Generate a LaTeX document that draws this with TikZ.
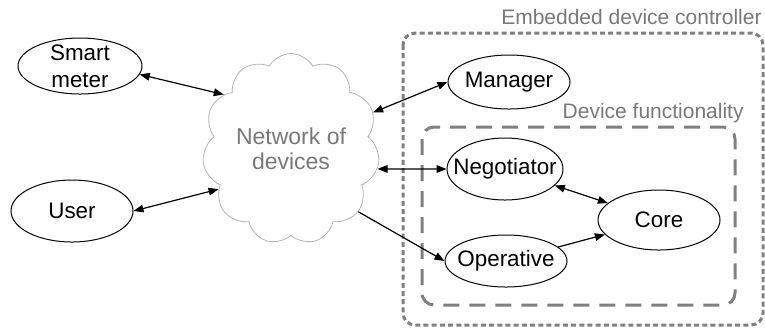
\documentclass[tikz,border=0pt]{standalone}
\usepackage{fontspec}
\setmainfont{Liberation Sans}
\usetikzlibrary{arrows.meta,shapes.geometric,shapes.symbols}
\definecolor{framegray}{RGB}{128,128,128}
\definecolor{textgray}{RGB}{120,120,120}
\tikzset{%
  >={Triangle[width=3.8pt,length=5pt]},
  % Specifications for style of nodes:
        base/.style = {ellipse, draw=black, line width=0.5pt,
                       inner xsep=-8pt, inner ysep=-6pt, align=center,
                       font=\fontsize{11.2}{13.5}\selectfont},
      netcld/.style = {cloud, draw=black!30, line width=0.4pt, cloud puffs=11,
                       cloud puff arc=120, aspect=0.9, inner sep=0pt,
                       minimum width=82pt, minimum height=94pt, align=center,
                       text=textgray, font=\fontsize{11.5}{12.5}\selectfont},
    boxlabel/.style = {anchor=east, inner sep=0pt, text=textgray,
                       font=\fontsize{10.5}{12}\selectfont},
    outerbox/.style = {draw=framegray, line width=1.5pt, rounded corners=6pt,
                       dash pattern=on 2.5pt off 1.6pt},
    innerbox/.style = {draw=framegray, line width=1.5pt, rounded corners=6pt,
                       dash pattern=on 8pt off 5pt},
        link/.style = {line width=0.6pt}
}
\begin{document}
\begin{tikzpicture}[x=0.5pt, y=-0.5pt]
  \useasboundingbox (0,0) rectangle (765,329);
  % Frames
  \draw[outerbox] (403,33) rectangle (763,325);
  \draw[innerbox] (422,127) rectangle (735,305);
  \node (ctrllbl) [boxlabel] at (762,17)  {Embedded device controller};
  \node (funclbl) [boxlabel] at (744,113) {Device functionality};

  % Specification of nodes (position, etc.)
  \node (smart)   [base, minimum width=62pt, minimum height=28pt] at (80,66)   {Smart\\meter};
  \node (user)    [base, minimum width=61pt, minimum height=31pt] at (72,211)  {User};
  \node (net)     [netcld]                                        at (291,149) {Network of\\devices};
  \node (manager) [base, minimum width=61pt, minimum height=27pt] at (509,82)  {Manager};
  \node (negot)   [base, minimum width=58pt, minimum height=31pt] at (505,169) {Negotiator};
  \node (oper)    [base, minimum width=61pt, minimum height=26pt] at (506,261) {Operative};
  \node (core)    [base, minimum width=61pt, minimum height=30pt] at (659,220) {Core};

  \draw[link, <->] (smart.-8) -- (net.141);
  \draw[link, <->] (user.east) -- (net.209);
  \draw[link, <->] (net.24) -- (manager.west);
  \draw[link, <->] (net.-13) -- (negot.west);
  \draw[link, ->]  (net.-43) -- (oper.west);
  \draw[link, <->] (negot) -- (core);
  \draw[link, ->]  (oper) -- (core);
\end{tikzpicture}
\end{document}
